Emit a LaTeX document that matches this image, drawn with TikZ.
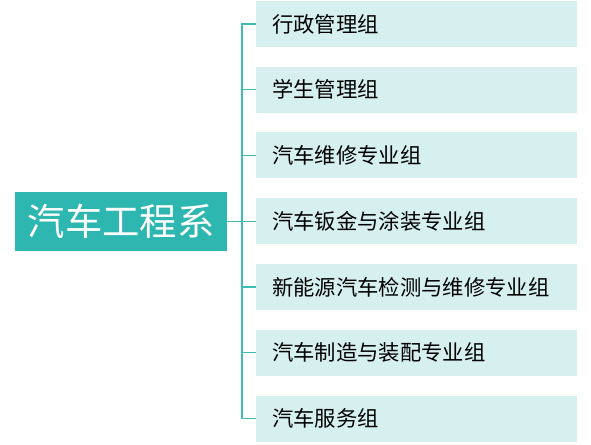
\documentclass[tikz,border=0pt]{standalone}
\usepackage{fontspec}
\setmainfont{Noto Sans CJK SC}
\definecolor{rootteal}{HTML}{2DB7B0}
\definecolor{groupbg}{HTML}{D5F0EF}
\definecolor{linkteal}{HTML}{3DBDB6}
\tikzset{
    dept/.style={fill=rootteal, text=white, minimum width=159pt, minimum height=44.25pt,
        inner sep=0pt, font=\fontsize{28}{30}\selectfont},
    group/.style={fill=groupbg, text=black, anchor=west, minimum width=240.75pt,
        minimum height=34.5pt, inner xsep=12pt, inner ysep=0pt, text width=216.75pt,
        align=left, font=\fontsize{16}{18}\selectfont},
    link/.style={draw=linkteal, line width=1pt}
}
\begin{document}
\begin{tikzpicture}[x=0.75pt, y=-0.75pt]
    \useasboundingbox (0,0) rectangle (591,445);
    \node[dept] (root) at (121,221.5) {汽车工程系};
    \coordinate (spine) at (242,221.5);
    \node[group] (g1) at (256,24) {行政管理组};
    \node[group] (g2) at (256,89.75) {学生管理组};
    \node[group] (g3) at (256,155.5) {汽车维修专业组};
    \node[group] (g4) at (256,221.25) {汽车钣金与涂装专业组};
    \node[group] (g5) at (256,287) {新能源汽车检测与维修专业组};
    \node[group] (g6) at (256,352.75) {汽车制造与装配专业组};
    \node[group] (g7) at (256,418.5) {汽车服务组};
    \draw[link] (root.east) -- (spine);
    \foreach \g in {g1,g2,g3,g4,g5,g6,g7}
        \draw[link] (spine) |- (\g.west);
\end{tikzpicture}
\end{document}
